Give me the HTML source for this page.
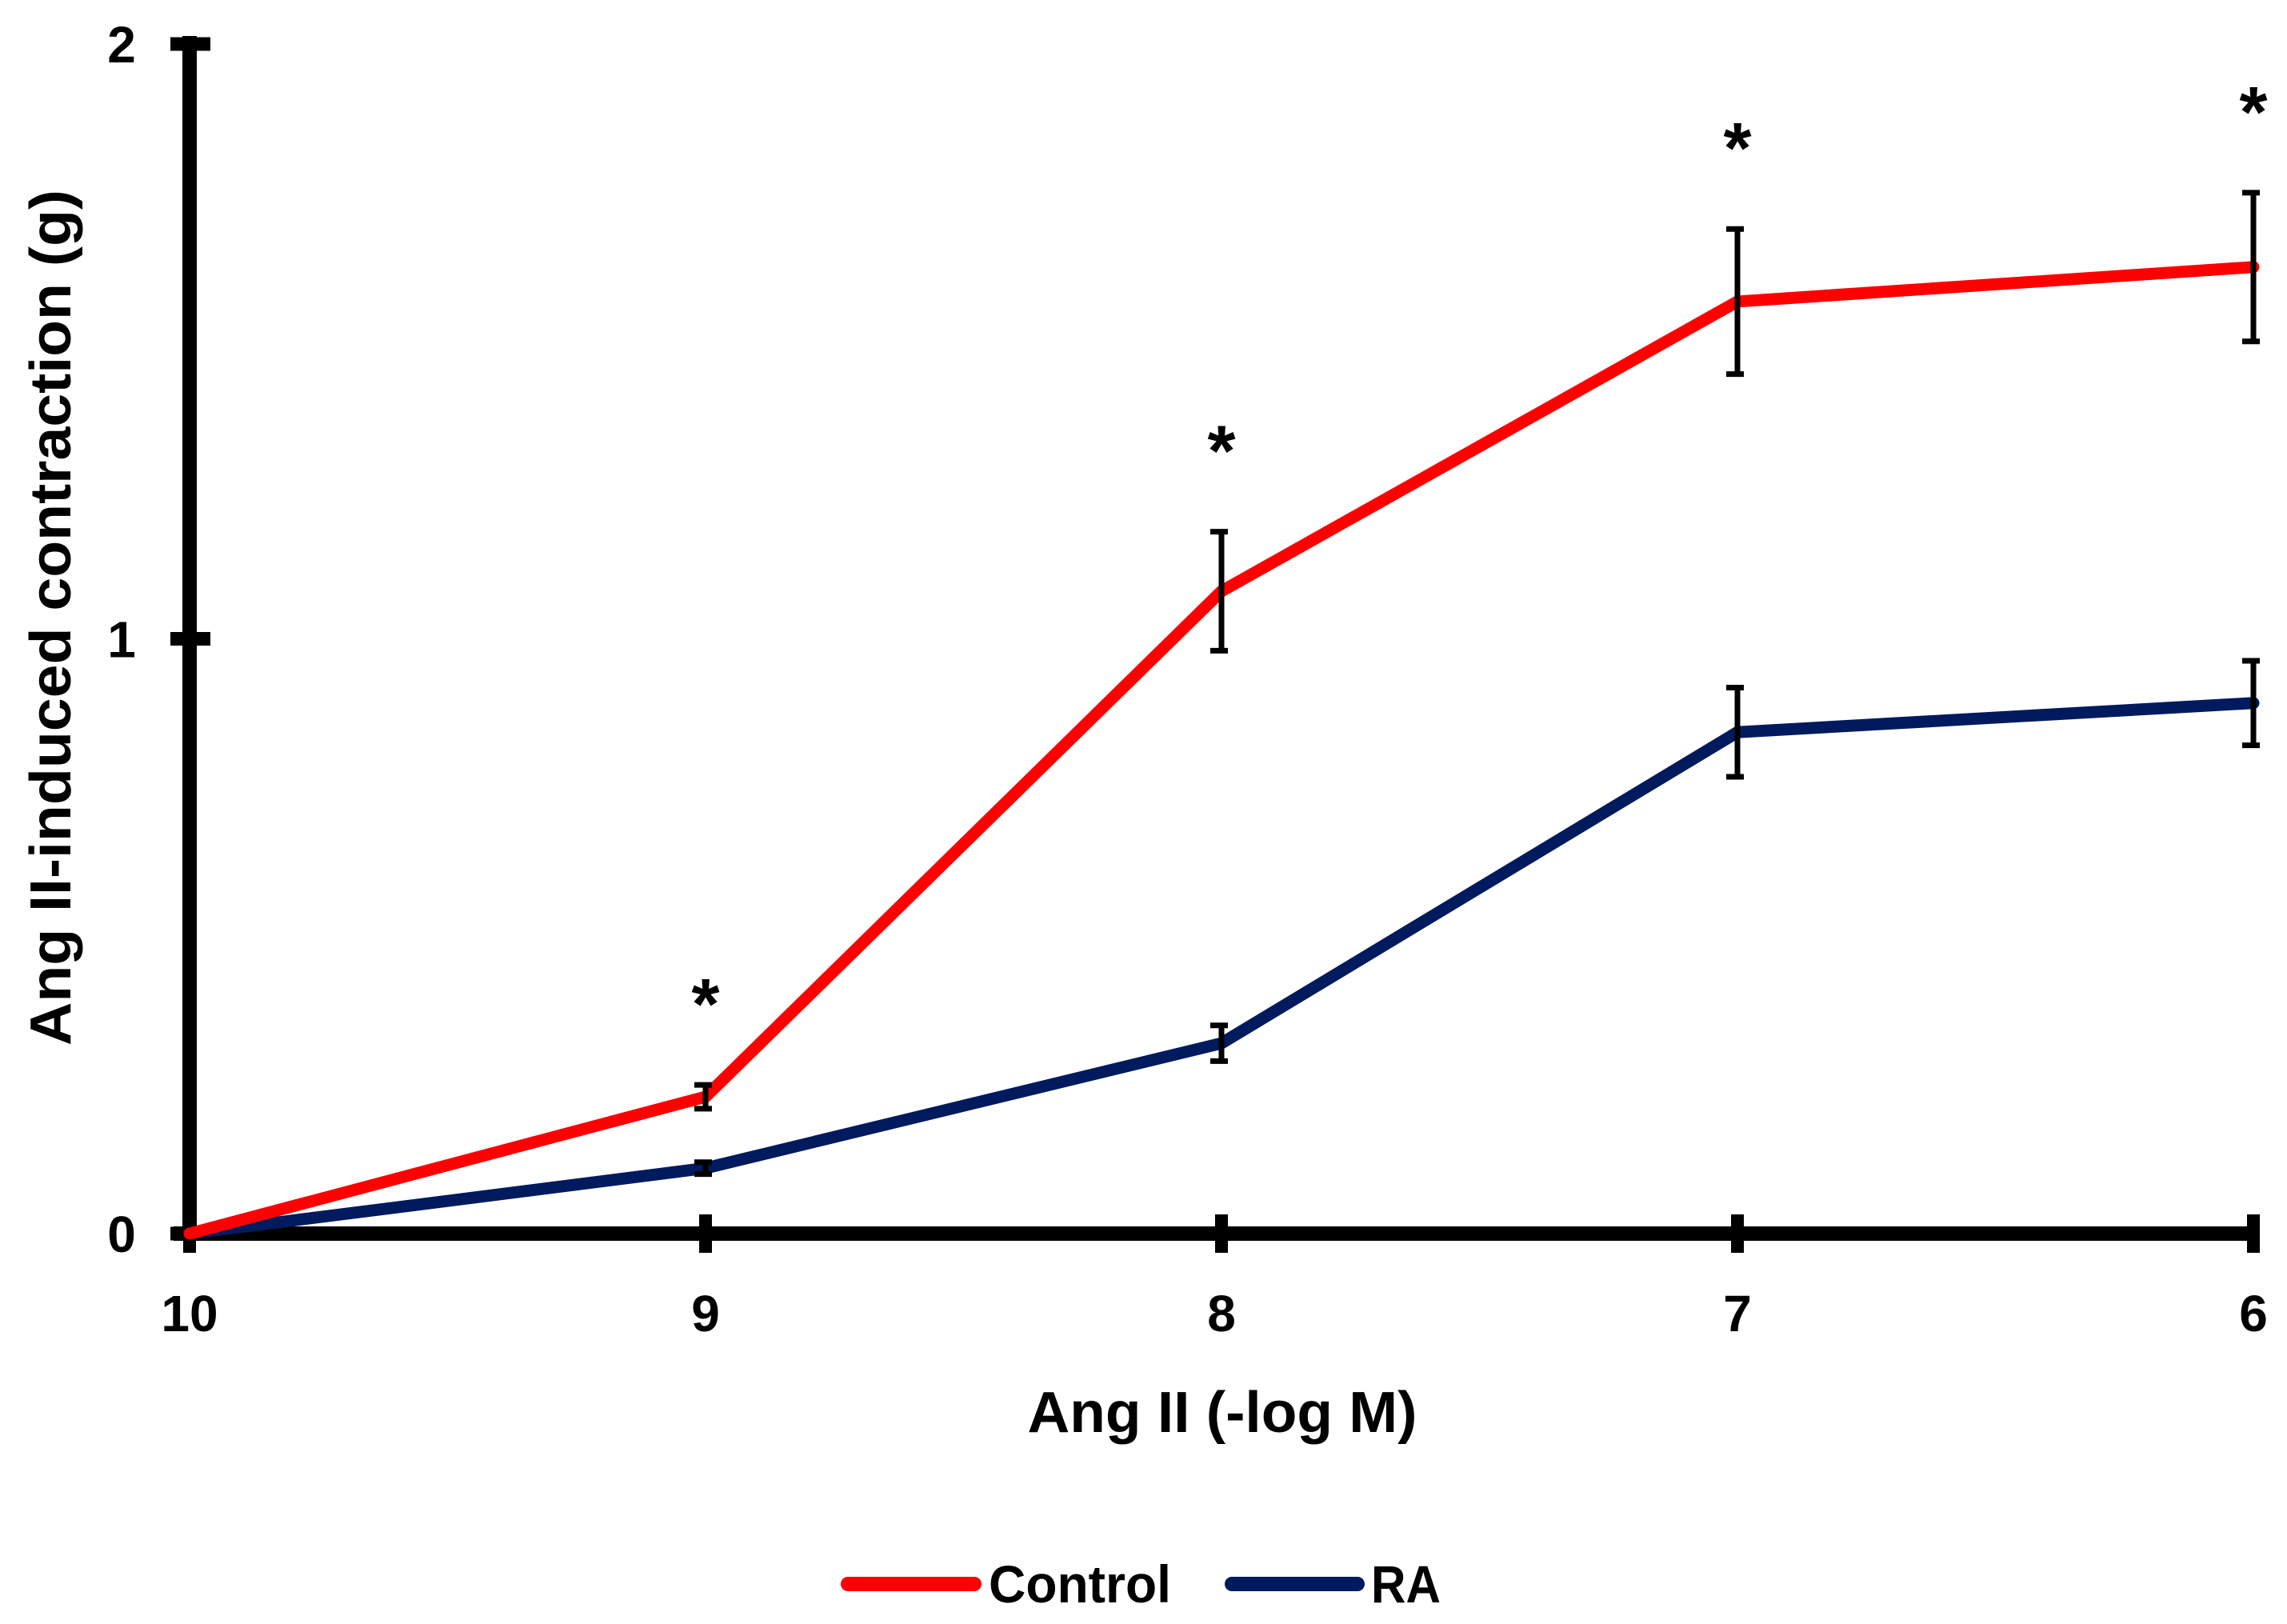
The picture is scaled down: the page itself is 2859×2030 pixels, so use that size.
<!DOCTYPE html>
<html><head><meta charset="utf-8"><style>
html,body{margin:0;padding:0;background:#fff}
svg{display:block}
text{font-family:"Liberation Sans",sans-serif;font-weight:bold;fill:#000}
</style></head><body>
<svg id="chart" width="2859" height="2030" viewBox="0 0 2859 2030" xmlns="http://www.w3.org/2000/svg">
<g id="plot"></g>
<text x="1528" y="1790" font-size="72" text-anchor="middle" textLength="487" lengthAdjust="spacingAndGlyphs">Ang II (-log M)</text>
<text transform="translate(88,772) rotate(-90)" font-size="72" text-anchor="middle" textLength="1070" lengthAdjust="spacingAndGlyphs">Ang II-induced contraction (g)</text>
<g>
<line x1="1060" y1="1980" x2="1218" y2="1980" stroke="#ff0000" stroke-width="18" stroke-linecap="round"/>
<text x="1236" y="2003" font-size="66" textLength="228" lengthAdjust="spacingAndGlyphs">Control</text>
<line x1="1540" y1="1980" x2="1697" y2="1980" stroke="#001a5e" stroke-width="18" stroke-linecap="round"/>
<text x="1714" y="2003" font-size="66" textLength="87" lengthAdjust="spacingAndGlyphs">RA</text>
</g>
</svg>
<script>
const categories = ["10","9","8","7","6"];
const controlValues = [0, 0.23, 1.08, 1.567, 1.625];
const controlErrors = [0, 0.02, 0.10, 0.122, 0.125];
const raValues = [0, 0.11, 0.32, 0.843, 0.892];
const raErrors = [0, 0.01, 0.03, 0.075, 0.071];
const significant = [false, true, true, true, true];
const yTicks = [0, 1, 2];

const NS = "http://www.w3.org/2000/svg";
const g = document.getElementById('plot');
const X0 = 237, XSTEP = 645, Y0 = 1542, YUNIT = 743.5;
const xs = i => X0 + i * XSTEP;
const ys = v => Y0 - v * YUNIT;
function mk(tag, attrs, parent) {
  const e = document.createElementNS(NS, tag);
  for (const k in attrs) e.setAttribute(k, attrs[k]);
  (parent || g).appendChild(e);
  return e;
}
let ax = mk('line', {x1: X0, y1: ys(2) - 10, x2: X0, y2: Y0 + 8, stroke: '#000', 'stroke-width': 18});


yTicks.forEach(t => {
  const tk = mk('line', {x1: X0 - 24, y1: ys(t), x2: X0 + 26, y2: ys(t), stroke: '#000', 'stroke-width': 17});
  
  
  const lb = mk('text', {x: 152, y: ys(t) + 23, 'font-size': 64, 'text-anchor': 'middle'});
  lb.textContent = String(t);
  
  
});
let xa = mk('line', {x1: X0 - 20, y1: Y0, x2: xs(categories.length - 1) + 8, y2: Y0, stroke: '#000', 'stroke-width': 18});


categories.forEach((c, i) => {
  const tk = mk('line', {x1: xs(i), y1: Y0 - 24, x2: xs(i), y2: Y0 + 24, stroke: '#000', 'stroke-width': 16});
  
  
  const lb = mk('text', {x: xs(i), y: 1664, 'font-size': 64, 'text-anchor': 'middle'});
  lb.textContent = c;
  
  
});
function series(vals, errs, color, name) {
  const pts = vals.map((v, i) => xs(i) + ',' + ys(v)).join(' ');
  const pl = mk('polyline', {points: pts, fill: 'none', stroke: color, 'stroke-width': 15, 'stroke-linejoin': 'round', 'stroke-linecap': 'round'});
  
  
  vals.forEach((v, i) => {
    if (i === 0 || errs[i] <= 0) return;
    const x = xs(i), t = ys(v + errs[i]), b = ys(v - errs[i]);
    const eb = mk('path', {d: `M${x},${t} V${b} M${x - 14},${t} H${x + 8} M${x - 14},${b} H${x + 8}`, stroke: '#000', 'stroke-width': 7, fill: 'none'});
    
    
  });
}
series(raValues, raErrors, '#001a5e', 'ra');
series(controlValues, controlErrors, '#ff0000', 'control');
significant.forEach((s, i) => {
  if (!s) return;
  const top = ys(controlValues[i] + controlErrors[i]);
  const st = mk('text', {x: xs(i), y: top - 122 + 52, 'font-size': 90, 'text-anchor': 'middle'});
  st.textContent = '*';
  
  
});
</script>
</body></html>
